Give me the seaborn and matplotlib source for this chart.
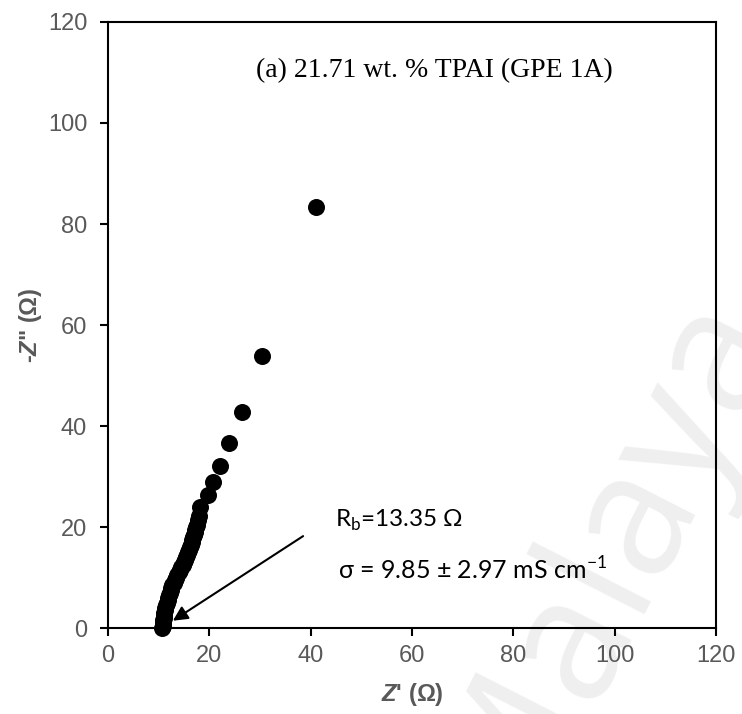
import matplotlib
matplotlib.use("Agg")
import matplotlib.pyplot as plt
import seaborn as sns
import pandas as pd

# Nyquist data (Z' vs -Z'')
z_real = [10.7, 10.75, 10.8, 10.85, 10.95, 11.0, 11.1, 11.2, 11.3, 11.45,
          11.6, 11.75, 11.9, 12.05, 12.2, 12.35, 12.5, 12.7, 12.95, 13.2,
          13.45, 13.7, 13.95, 14.2, 14.45, 14.7, 14.95, 15.2, 15.45, 15.65,
          15.85, 16.0, 16.2, 16.35, 16.5, 16.65, 16.8, 16.95, 17.1, 17.25,
          17.4, 17.55, 17.7, 17.9, 18.2, 19.8, 20.8, 22.1, 23.9, 26.4,
          30.4, 41.0]
z_imag = [0.0, 0.5, 1.0, 1.5, 2.0, 2.5, 3.0, 3.5, 4.0, 4.5,
          5.0, 5.5, 6.0, 6.5, 7.0, 7.5, 8.0, 8.5, 9.0, 9.5,
          10.0, 10.5, 11.0, 11.5, 12.0, 12.5, 13.0, 13.5, 14.0, 14.5,
          15.0, 15.5, 16.0, 16.5, 17.0, 17.5, 18.0, 18.5, 19.0, 19.5,
          20.0, 20.5, 21.3, 22.2, 24.0, 26.3, 28.9, 32.1, 36.6, 42.8,
          53.9, 83.4]

x_ticks = [0, 20, 40, 60, 80, 100, 120]
y_ticks = [0, 20, 40, 60, 80, 100, 120]

title_text = "(a) 21.71 wt. % TPAI (GPE 1A)"
rb_text = r"R$_\mathregular{b}$=13.35 Ω"
sigma_text = r"σ = 9.85 ± 2.97 mS cm$^\mathregular{-1}$"

df = pd.DataFrame({"zr": z_real, "zi": z_imag})

sns.set_style("white")
plt.rcParams['font.family'] = ['Liberation Sans', 'DejaVu Sans']
plt.rcParams['axes.unicode_minus'] = False
plt.rcParams['mathtext.fontset'] = 'custom'
plt.rcParams['mathtext.rm'] = 'Lato'
plt.rcParams['mathtext.bfit'] = 'Liberation Sans:italic:bold'

fig = plt.figure(figsize=(7.42, 7.14), dpi=100)

# faint background watermark
fig.text(0.815, 0.216, "Malaya", fontsize=125, color='#efefef', rotation=63,
         ha='center', va='center', family='Open Sans', zorder=0)

ax = fig.add_axes([0.1456, 0.1204, 0.8194, 0.8488])
ax.set_facecolor('none')
ax.set_zorder(1)

sns.scatterplot(data=df, x="zr", y="zi", ax=ax, color='black', s=150,
                edgecolor='black', linewidth=0, zorder=3, clip_on=False)

ax.set_xlim(0, 120)
ax.set_ylim(0, 120)
ax.set_xticks(x_ticks)
ax.set_yticks(y_ticks)

for sp in ax.spines.values():
    sp.set_color('black')
    sp.set_linewidth(1.5)
    sp.set_visible(True)

ax.tick_params(axis='both', direction='out', length=6, width=1.5,
               color='black', labelcolor='#595959', labelsize=17,
               bottom=True, left=True)
ax.tick_params(axis='x', pad=6)
ax.tick_params(axis='y', pad=9)

ax.set_xlabel(r"$\mathbfit{Z}$' (Ω)", fontsize=17, fontweight='bold',
              color='#595959', labelpad=10)
ax.set_ylabel(r'-$\mathbfit{Z}$" (Ω)', fontsize=17, fontweight='bold',
              color='#595959', labelpad=3)

ax.text(64.5, 110.3, title_text, fontsize=20, family='Liberation Serif',
        ha='center', va='center', color='black')

ax.text(44.8, 21.4, rb_text, fontsize=17.5, family='Lato', ha='left',
        va='center', color='black')
ax.text(45.4, 11.5, sigma_text, fontsize=18, family='Lato', ha='left',
        va='center', color='black')

ax.annotate("", xy=(12.8, 1.45), xytext=(38.5, 18.2),
            arrowprops=dict(arrowstyle='-|>', color='black', lw=1.5,
                            mutation_scale=22, shrinkA=0, shrinkB=0))

fig.savefig("out.png", dpi=100)
